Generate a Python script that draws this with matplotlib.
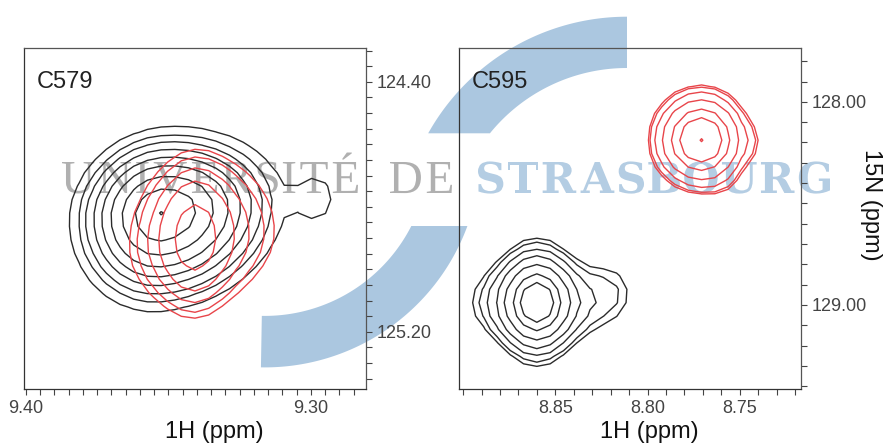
import numpy as np
import matplotlib
matplotlib.use("Agg")
import matplotlib.pyplot as plt
from matplotlib.patches import Polygon, PathPatch
from matplotlib.path import Path
from matplotlib.textpath import TextPath
from matplotlib.font_manager import FontProperties
from matplotlib.ticker import FixedLocator, MultipleLocator, FormatStrFormatter

plt.rcParams["font.family"] = ["Liberation Sans", "DejaVu Sans"]

W, H, DPI = 885, 443, 100

# ---------------- C579 panel ----------------
c579_label = "C579"
c579_h_range = (9.4007, 9.2807)
c579_n_range = (125.383, 124.292)
c579_h_major = [9.40, 9.30]
c579_n_major = [124.40, 125.20]
c579_h_minor = 0.005
c579_n_minor = 0.05

# peak components: centres (ppm), widths toward high / low ppm, 15N/1H tilt, amplitudes
c579_black_h = [9.3526, 9.2975]
c579_black_n = [124.820, 124.772]
c579_black_wh_hi = [0.0157, 0.0056]
c579_black_wh_lo = [0.0211, 0.0056]
c579_black_wn_lo = [0.134, 0.067]
c579_black_wn_hi = [0.154, 0.067]
c579_black_tilt = [-0.8, 0.0]
c579_black_amp = [1.0, 0.15]
c579_black_levels = [0.126, 0.186, 0.245, 0.325, 0.418, 0.535, 0.683, 0.844, 0.995]

c579_red_h = [9.3407, 9.3407]
c579_red_n = [124.903, 124.903]
c579_red_wh_hi = [0.0070, 0.0158]
c579_red_wh_lo = [0.0070, 0.0193]
c579_red_wn_lo = [0.134, 0.176]
c579_red_wn_hi = [0.134, 0.144]
c579_red_tilt = [0.0, -0.9]
c579_red_amp = [0.5, 0.6]
c579_red_levels = [0.194, 0.248, 0.348, 0.491, 0.77]

# ---------------- C595 panel ----------------
c595_label = "C595"
c595_h_range = (8.9022, 8.7168)
c595_n_range = (129.414, 127.735)
c595_h_major = [8.85, 8.80, 8.75]
c595_n_major = [128.00, 129.00]
c595_h_minor = 0.01
c595_n_minor = 0.1

c595_black_h = [8.8600, 8.8600, 8.8190]
c595_black_n = [128.989, 128.989, 128.923]
c595_black_wh_hi = [0.0109, 0.0217, 0.0098]
c595_black_wh_lo = [0.0109, 0.0245, 0.0098]
c595_black_wn_lo = [0.148, 0.128, 0.113]
c595_black_wn_hi = [0.148, 0.118, 0.113]
c595_black_tilt = [0.0, 0.0, 0.0]
c595_black_amp = [0.7, 0.3, 0.075]
c595_black_levels = [0.09, 0.122, 0.182, 0.277, 0.418, 0.606, 0.77]

c595_red_h = [8.7707, 8.7397, 8.7571]
c595_red_n = [128.189, 128.199, 128.425]
c595_red_wh_hi = [0.0163, 0.0044, 0.0076]
c595_red_wh_lo = [0.0152, 0.0044, 0.0076]
c595_red_wn_lo = [0.153, 0.089, 0.039]
c595_red_wn_hi = [0.148, 0.089, 0.039]
c595_red_tilt = [0.0, 0.0, 0.0]
c595_red_amp = [1.0, 0.09, 0.05]
c595_red_levels = [0.21, 0.235, 0.309, 0.43, 0.607, 0.76, 0.99]

BLACK = "#2b2b2b"
RED = "#e8454a"
TICK_COLOR = "#444444"


def spectrum(hh, nn, ch, cn, wh_hi, wh_lo, wn_lo, wn_hi, tilt, amp):
    """Sum of split-Gaussian cross peaks on a 1H/15N grid."""
    z = np.zeros_like(hh)
    for c_h, c_n, a, b, c, d, t, A in zip(ch, cn, wh_hi, wh_lo, wn_lo, wn_hi, tilt, amp):
        dh = hh - c_h
        dn = nn - c_n + t * dh
        sh = np.where(dh > 0, a, b)
        sn = np.where(dn < 0, c, d)
        z += A * np.exp(-0.5 * ((dh / sh) ** 2 + (dn / sn) ** 2))
    return z


def draw_panel(ax, label, h_range, n_range, h_major, n_major, h_minor, n_minor,
               h_step, n_step, peaks):
    for comps, levels, color, z in peaks:
        # digitisation grid anchored on the strongest component
        c_h, c_n = comps[0][0], comps[1][0]
        kh0 = int(np.floor((min(h_range) - c_h) / h_step)) - 1
        kh1 = int(np.ceil((max(h_range) - c_h) / h_step)) + 1
        kn0 = int(np.floor((min(n_range) - c_n) / n_step)) - 1
        kn1 = int(np.ceil((max(n_range) - c_n) / n_step)) + 1
        h = c_h + h_step * np.arange(kh0, kh1 + 1)
        n = c_n + n_step * np.arange(kn0, kn1 + 1)
        hh, nn = np.meshgrid(h, n)
        field = spectrum(hh, nn, *comps)
        ax.contour(hh, nn, field, levels=np.array(levels) * field.max(),
                   colors=color, linewidths=1.0, zorder=z)
    ax.set_xlim(*h_range)
    ax.set_ylim(*n_range)
    ax.set_facecolor("none")
    ax.yaxis.tick_right()
    ax.xaxis.set_major_locator(FixedLocator(h_major))
    ax.yaxis.set_major_locator(FixedLocator(n_major))
    ax.xaxis.set_minor_locator(MultipleLocator(h_minor))
    ax.yaxis.set_minor_locator(MultipleLocator(n_minor))
    ax.xaxis.set_major_formatter(FormatStrFormatter("%.2f"))
    ax.yaxis.set_major_formatter(FormatStrFormatter("%.2f"))
    ax.tick_params(which="both", direction="out", length=4, width=0.8,
                   color=TICK_COLOR, labelcolor=TICK_COLOR, labelsize=13)
    ax.tick_params(axis="x", which="both", pad=4)
    ax.tick_params(axis="y", which="both", pad=4, right=True, left=False)
    for side, sp in ax.spines.items():
        sp.set_color("#333333" if side in ("left", "bottom") else "#555555")
        sp.set_linewidth(0.9)
    ax.text(0.038, 0.883, label, transform=ax.transAxes, fontsize=17,
            color="#222222", ha="left", va="baseline")


fig = plt.figure(figsize=(W / DPI, H / DPI), dpi=DPI, facecolor="white")


def fx(px):
    return px / W


def fy(py_img):
    return (H - py_img) / H


# ---- University of Strasbourg watermark, behind the panels ----
BLUE_MARK = "#abc7e0"


def arc_band(cx, cy, r_in, r_out, out_a0, out_a1, in_a0, in_a1):
    t_out = np.radians(np.linspace(out_a0, out_a1, 80))
    t_in = np.radians(np.linspace(in_a1, in_a0, 80))
    xs = np.concatenate([cx + r_out * np.cos(t_out), cx + r_in * np.cos(t_in)])
    ys = np.concatenate([cy + r_out * np.sin(t_out), cy + r_in * np.sin(t_in)])
    return np.column_stack([xs / W, ys / H])


# upper band: centre (627, 198.5) px, cut horizontally at y = 309.7 px
cy_u, yc_u = 198.5, 309.7
ro_u, ri_u = 227.8, 176.5
a_out_u = 180 - np.degrees(np.arcsin((yc_u - cy_u) / ro_u))
a_in_u = 180 - np.degrees(np.arcsin((yc_u - cy_u) / ri_u))
fig.patches.append(Polygon(arc_band(627, cy_u, ri_u, ro_u, 90, a_out_u, 90, a_in_u),
                           closed=True, transform=fig.transFigure,
                           facecolor=BLUE_MARK, edgecolor="none", zorder=-2))
# lower band: centre (264.7, 291.6) px, cut horizontally at y = 217 px
cy_l, yc_l = 291.6, 217.0
ro_l, ri_l = 216.0, 164.5
a_out_l = np.degrees(np.arcsin((yc_l - cy_l) / ro_l))
a_in_l = np.degrees(np.arcsin((yc_l - cy_l) / ri_l))
fig.patches.append(Polygon(arc_band(264.7, cy_l, ri_l, ro_l, -91, a_out_l, -91, a_in_l),
                           closed=True, transform=fig.transFigure,
                           facecolor=BLUE_MARK, edgecolor="none", zorder=-2))


def spaced_word(word, x0, x1, baseline, cap_px, family, weight, color):
    fp = FontProperties(family=family, weight=weight)
    cap = TextPath((0, 0), "H", size=100, prop=fp).get_extents().height
    k = cap_px / cap
    paths = [TextPath((0, 0), ch, size=100, prop=fp) for ch in word]
    exts = [p.get_extents() for p in paths]
    widths = [e.width * k for e in exts]
    gap = (x1 - x0 - sum(widths)) / max(len(word) - 1, 1)
    cursor = x0
    for p, e, w in zip(paths, exts, widths):
        v = p.vertices.copy()
        v[:, 0] = (cursor + (v[:, 0] - e.x0) * k) / W
        v[:, 1] = (baseline + v[:, 1] * k) / H
        fig.patches.append(PathPatch(Path(v, p.codes), transform=fig.transFigure,
                                     facecolor=color, edgecolor="none", zorder=-2))
        cursor += w + gap


base = H - 193
spaced_word("UNIVERSITÉ", 62, 358, base, 31, "Liberation Serif", "normal", "#b0b0b0")
spaced_word("DE", 390, 452, base, 31, "Liberation Serif", "normal", "#b0b0b0")
spaced_word("STRASBOURG", 478, 830, base, 31, "DejaVu Serif", "bold", "#b4cde3")

# ---- panels ----
ax1 = fig.add_axes([fx(24), fy(389), fx(342), 341 / H])
ax2 = fig.add_axes([fx(459), fy(389), fx(342), 341 / H])

draw_panel(ax1, c579_label, c579_h_range, c579_n_range, c579_h_major, c579_n_major,
           c579_h_minor, c579_n_minor, 0.0048, 0.043,
           [((c579_black_h, c579_black_n, c579_black_wh_hi, c579_black_wh_lo,
              c579_black_wn_lo, c579_black_wn_hi, c579_black_tilt, c579_black_amp),
             c579_black_levels, BLACK, 2),
            ((c579_red_h, c579_red_n, c579_red_wh_hi, c579_red_wh_lo,
              c579_red_wn_lo, c579_red_wn_hi, c579_red_tilt, c579_red_amp),
             c579_red_levels, RED, 3)])

draw_panel(ax2, c595_label, c595_h_range, c595_n_range, c595_h_major, c595_n_major,
           c595_h_minor, c595_n_minor, 0.0072, 0.066,
           [((c595_black_h, c595_black_n, c595_black_wh_hi, c595_black_wh_lo,
              c595_black_wn_lo, c595_black_wn_hi, c595_black_tilt, c595_black_amp),
             c595_black_levels, BLACK, 2),
            ((c595_red_h, c595_red_n, c595_red_wh_hi, c595_red_wh_lo,
              c595_red_wn_lo, c595_red_wn_hi, c595_red_tilt, c595_red_amp),
             c595_red_levels, RED, 3)])

fig.text(fx(214), fy(432), "1H (ppm)", fontsize=17, color="#111111", ha="center", va="center")
fig.text(fx(649), fy(432), "1H (ppm)", fontsize=17, color="#111111", ha="center", va="center")
fig.text(fx(871), fy(205), "15N (ppm)", fontsize=17, color="#111111", ha="center",
         va="center", rotation=270)

fig.savefig("out.png", dpi=DPI, facecolor="white")
